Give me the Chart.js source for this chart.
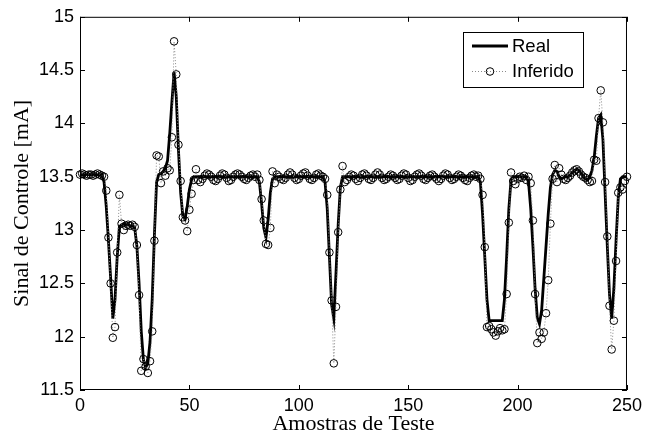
<!DOCTYPE html>
<html>
<head>
<meta charset="utf-8">
<script src="https://cdn.jsdelivr.net/npm/chart.js@4.4.1/dist/chart.umd.min.js"></script>
<style>
  html, body { margin: 0; padding: 0; background: #fff; }
  #wrap { width: 647px; height: 435px; }
</style>
</head>
<body>
<div id="wrap"><canvas id="c" width="647" height="435"></canvas></div>
<script>
// measured signal (sample 0..250)
const real = [
  13.52, 13.52, 13.52, 13.52, 13.52, 13.52, 13.52, 13.52, 13.52, 13.52,
  13.52, 13.45, 13.22, 12.90, 12.55, 12.17, 12.35, 12.75, 13.03, 13.05,
  13.06, 13.05, 13.05, 13.04, 13.04, 13.02, 12.85, 12.50, 12.05, 11.78,
  11.71, 11.75, 11.95, 12.35, 12.95, 13.45, 13.52, 13.53, 13.55, 13.58,
  13.65, 13.90, 14.20, 14.48, 14.25, 13.75, 13.35, 13.13, 13.10, 13.22,
  13.38, 13.47, 13.50, 13.50, 13.50, 13.50, 13.50, 13.50, 13.50, 13.50,
  13.50, 13.50, 13.50, 13.50, 13.50, 13.50, 13.50, 13.50, 13.50, 13.50,
  13.50, 13.50, 13.50, 13.50, 13.50, 13.50, 13.50, 13.50, 13.50, 13.50,
  13.50, 13.50, 13.45, 13.25, 13.02, 12.93, 13.10, 13.35, 13.48, 13.50,
  13.50, 13.50, 13.50, 13.50, 13.50, 13.50, 13.50, 13.50, 13.50, 13.50,
  13.50, 13.50, 13.50, 13.50, 13.50, 13.50, 13.50, 13.50, 13.50, 13.50,
  13.50, 13.50, 13.45, 13.20, 12.75, 12.30, 12.17, 12.60, 13.05, 13.40,
  13.50, 13.50, 13.50, 13.50, 13.50, 13.50, 13.50, 13.50, 13.50, 13.50,
  13.50, 13.50, 13.50, 13.50, 13.50, 13.50, 13.50, 13.50, 13.50, 13.50,
  13.50, 13.50, 13.50, 13.50, 13.50, 13.50, 13.50, 13.50, 13.50, 13.50,
  13.50, 13.50, 13.50, 13.50, 13.50, 13.50, 13.50, 13.50, 13.50, 13.50,
  13.50, 13.50, 13.50, 13.50, 13.50, 13.50, 13.50, 13.50, 13.50, 13.50,
  13.50, 13.50, 13.50, 13.50, 13.50, 13.50, 13.50, 13.50, 13.50, 13.50,
  13.50, 13.50, 13.50, 13.45, 13.15, 12.75, 12.35, 12.15, 12.15, 12.15,
  12.15, 12.15, 12.15, 12.15, 12.35, 12.75, 13.20, 13.47, 13.50, 13.50,
  13.50, 13.50, 13.50, 13.50, 13.50, 13.45, 13.20, 12.85, 12.45, 12.18,
  12.12, 12.25, 12.55, 12.85, 13.15, 13.40, 13.52, 13.56, 13.55, 13.50,
  13.48, 13.49, 13.50, 13.50, 13.51, 13.54, 13.56, 13.57, 13.56, 13.53,
  13.50, 13.48, 13.47, 13.50, 13.56, 13.68, 13.88, 14.05, 14.08, 13.85,
  13.35, 12.85, 12.40, 12.17, 12.45, 12.90, 13.30, 13.48, 13.50, 13.50,
  13.50
];

// inferred signal (soft sensor output)
const inferido = [
  13.52, 13.53, 13.52, 13.51, 13.52, 13.52, 13.51, 13.52, 13.53, 13.52,
  13.51, 13.50, 13.37, 12.93, 12.50, 11.99, 12.09, 12.79, 13.33, 13.06,
  13.00, 13.04, 13.05, 13.04, 13.05, 13.03, 12.86, 12.39, 11.68, 11.79,
  11.72, 11.66, 11.77, 12.05, 12.90, 13.70, 13.69, 13.44, 13.55, 13.51,
  13.58, 13.56, 13.87, 14.77, 14.46, 13.80, 13.46, 13.12, 13.09, 12.99,
  13.19, 13.34, 13.47, 13.57, 13.47, 13.45, 13.48, 13.51, 13.53, 13.52,
  13.50, 13.47, 13.46, 13.48, 13.51, 13.53, 13.52, 13.49, 13.46, 13.47,
  13.50, 13.52, 13.53, 13.52, 13.50, 13.48, 13.47, 13.49, 13.51, 13.52,
  13.50, 13.52, 13.47, 13.29, 13.09, 12.87, 12.86, 13.02, 13.55, 13.44,
  13.52, 13.50, 13.48, 13.47, 13.49, 13.52, 13.54, 13.52, 13.49, 13.47,
  13.48, 13.51, 13.53, 13.54, 13.51, 13.48, 13.47, 13.49, 13.52, 13.53,
  13.51, 13.50, 13.48, 13.33, 12.79, 12.34, 11.75, 12.28, 12.98, 13.38,
  13.60, 13.45, 13.47, 13.50, 13.52, 13.51, 13.48, 13.46, 13.49, 13.52,
  13.53, 13.51, 13.48, 13.47, 13.49, 13.52, 13.54, 13.52, 13.49, 13.47,
  13.48, 13.50, 13.52, 13.51, 13.49, 13.47, 13.48, 13.51, 13.53, 13.52,
  13.49, 13.46, 13.47, 13.50, 13.52, 13.53, 13.51, 13.48, 13.47, 13.49,
  13.51, 13.52, 13.50, 13.48, 13.46, 13.48, 13.51, 13.53, 13.52, 13.49,
  13.47, 13.48, 13.50, 13.52, 13.51, 13.49, 13.47, 13.46, 13.49, 13.51,
  13.52, 13.50, 13.51, 13.48, 13.33, 12.84, 12.09, 12.10, 12.07, 12.04,
  12.01, 12.05, 12.08, 12.06, 12.07, 12.40, 13.07, 13.54, 13.46, 13.43,
  13.48, 13.50, 13.49, 13.51, 13.47, 13.50, 13.44, 13.09, 12.40, 11.94,
  12.04, 11.98, 12.04, 12.22, 12.53, 13.06, 13.48, 13.61, 13.45, 13.58,
  13.52, 13.48, 13.47, 13.49, 13.51, 13.54, 13.56, 13.57, 13.55, 13.52,
  13.50, 13.49, 13.47, 13.45, 13.46, 13.66, 13.65, 14.05, 14.31, 14.01,
  13.45, 12.94, 12.29, 11.88, 12.15, 12.71, 13.35, 13.40, 13.38, 13.46,
  13.50
];

const xTicks = [0, 50, 100, 150, 200, 250];
const yTicks = [11.5, 12, 12.5, 13, 13.5, 14, 14.5, 15];

const sans = "'Liberation Sans', Arial, Helvetica, sans-serif";
const serif = "'Liberation Serif', 'Times New Roman', serif";

// MATLAB-style box with inward ticks on all four sides
const boxPlugin = {
  id: "box",
  afterDraw(chart) {
    const { ctx, chartArea: a, scales } = chart;
    const len = 5;
    ctx.save();
    ctx.strokeStyle = "#000";
    ctx.lineWidth = 1;
    ctx.strokeRect(a.left + 0.5, a.top + 0.5, a.right - a.left - 1, a.bottom - a.top - 1);
    ctx.beginPath();
    xTicks.forEach((v) => {
      const px = Math.round(scales.x.getPixelForValue(v)) + 0.5;
      ctx.moveTo(px, a.bottom); ctx.lineTo(px, a.bottom - len);
      ctx.moveTo(px, a.top); ctx.lineTo(px, a.top + len);
    });
    yTicks.forEach((v) => {
      const py = Math.round(scales.y.getPixelForValue(v)) + 0.5;
      ctx.moveTo(a.left, py); ctx.lineTo(a.left + len, py);
      ctx.moveTo(a.right, py); ctx.lineTo(a.right - len, py);
    });
    ctx.stroke();

    // legend box
    const lx = 463.5, ly = 32.5, lw = 120, lh = 55;
    ctx.fillStyle = "#fff";
    ctx.fillRect(lx, ly, lw, lh);
    ctx.strokeRect(lx, ly, lw, lh);
    ctx.font = "18.5px " + sans;
    ctx.fillStyle = "#000";
    ctx.textBaseline = "middle";
    ctx.textAlign = "left";
    const ds = chart.data.datasets;
    // Real
    ctx.beginPath();
    ctx.lineWidth = ds[0].borderWidth;
    ctx.strokeStyle = ds[0].borderColor;
    ctx.moveTo(472, 46); ctx.lineTo(508, 46);
    ctx.stroke();
    ctx.fillText(ds[0].label, 512, 47);
    // Inferido
    ctx.beginPath();
    ctx.lineWidth = ds[1].borderWidth;
    ctx.strokeStyle = ds[1].borderColor;
    ctx.setLineDash(ds[1].borderDash);
    ctx.moveTo(472, 71.5); ctx.lineTo(508, 71.5);
    ctx.stroke();
    ctx.setLineDash([]);
    ctx.beginPath();
    ctx.lineWidth = 1;
    ctx.strokeStyle = "#000";
    ctx.arc(490, 71.5, ds[1].pointRadius, 0, Math.PI * 2);
    ctx.stroke();
    ctx.fillText(ds[1].label, 512, 72);
    ctx.restore();
  },
};

new Chart(document.getElementById("c"), {
  type: "line",
  data: {
    datasets: [
      {
        label: "Real",
        data: real.map((v, i) => ({ x: i, y: v })),
        borderColor: "#000",
        borderWidth: 2.8,
        pointRadius: 0,
        tension: 0,
        order: 1,
        clip: false,
      },
      {
        label: "Inferido",
        data: inferido.map((v, i) => ({ x: i, y: v })),
        borderColor: "#8a8a8a",
        borderWidth: 1,
        borderDash: [1, 2],
        pointRadius: 3.8,
        pointStyle: "circle",
        pointBorderColor: "#000",
        pointBorderWidth: 1,
        pointBackgroundColor: "rgba(0,0,0,0)",
        tension: 0,
        order: 0,
        clip: false,
      },
    ],
  },
  options: {
    responsive: false,
    animation: false,
    devicePixelRatio: 1,
    layout: { padding: { top: 15, right: 17, left: 0, bottom: 0 } },
    plugins: { legend: { display: false }, tooltip: { enabled: false } },
    scales: {
      x: {
        type: "linear",
        min: 0,
        max: 250,
        afterBuildTicks: (s) => { s.ticks = xTicks.map((v) => ({ value: v })); },
        afterFit: (s) => { s.height = 45; },
        grid: { display: false, drawTicks: false },
        border: { display: false },
        ticks: { color: "#000", font: { family: sans, size: 18 }, padding: 5, maxRotation: 0,
                 callback: (v) => String(v) },
        title: {
          display: true,
          text: "Amostras de Teste",
          color: "#000",
          font: { family: serif, size: 22, lineHeight: 1 },
          padding: { top: 0, bottom: 0 },
        },
      },
      y: {
        type: "linear",
        min: 11.5,
        max: 15,
        afterBuildTicks: (s) => { s.ticks = yTicks.map((v) => ({ value: v })); },
        afterFit: (s) => { s.width = 80; },
        grid: { display: false, drawTicks: false },
        border: { display: false },
        ticks: { color: "#000", font: { family: sans, size: 18 }, padding: 6,
                 callback: (v) => String(v) },
        title: {
          display: true,
          text: "Sinal de Controle [mA]",
          color: "#000",
          font: { family: serif, size: 22, lineHeight: 1 },
          padding: { top: 11, bottom: 0 },
        },
      },
    },
  },
  plugins: [boxPlugin],
});
</script>
</body>
</html>
